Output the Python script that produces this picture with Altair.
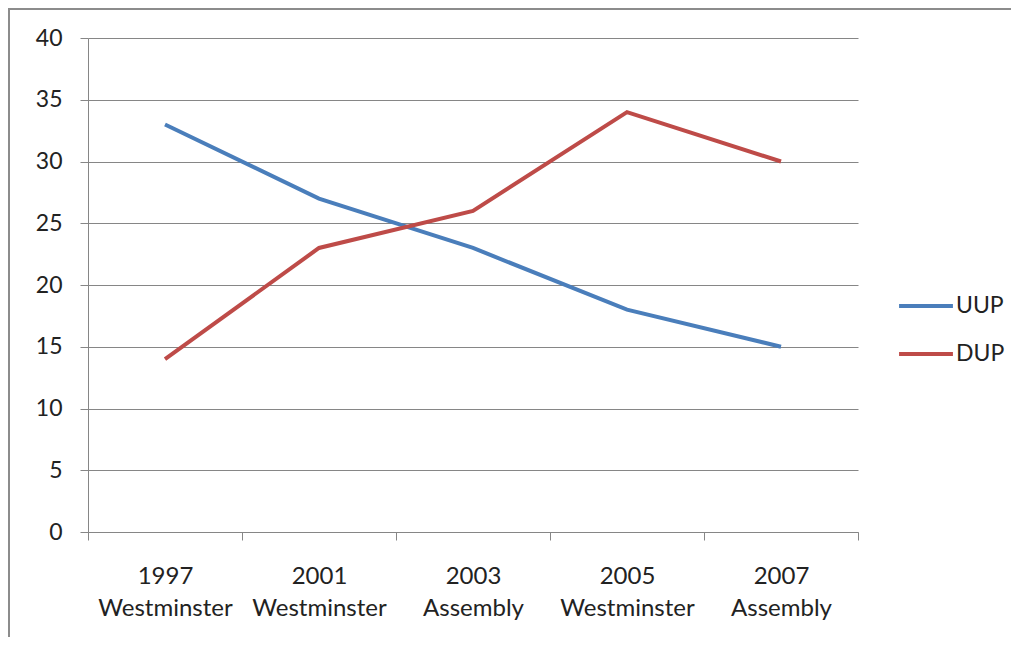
import altair as alt
import pandas as pd

categories = ["1997|Westminster", "2001|Westminster", "2003|Assembly", "2005|Westminster", "2007|Assembly"]
uup = [33, 27, 23, 18, 15]
dup = [14, 23, 26, 34, 30]
series = ["UUP", "DUP"]
colors = ["#4A7EBB", "#BE4B48"]
y_ticks = [0, 5, 10, 15, 20, 25, 30, 35, 40]

rows = []
for name, vals in zip(series, [uup, dup]):
    for c, v in zip(categories, vals):
        rows.append({"election": c, "party": name, "pct": v})
df = pd.DataFrame(rows)

W, H = 770, 494
PL, PT, PR, PB = 80, 30, 153, 105
FONT = "Lato"
GRID = "#868686"

lines = alt.Chart(df).mark_line(strokeWidth=4).encode(
    x=alt.X("election:N", sort=categories, bandPosition=0.5,
            scale=alt.Scale(type="band", paddingInner=0, paddingOuter=0),
            axis=alt.Axis(title=None, labelExpr="split(datum.label, '|')", labelAngle=0,
                          tickBand="extent", tickSize=8, tickColor=GRID, domainColor=GRID,
                          labelPadding=24, labelLineHeight=32, labelFontSize=24,
                          labelFont=FONT, labelColor="#222222", grid=False)),
    y=alt.Y("pct:Q", scale=alt.Scale(domain=[0, 40], nice=False),
            axis=alt.Axis(title=None, values=y_ticks, grid=True, gridColor=GRID,
                          tickSize=8, tickColor=GRID, domainColor=GRID,
                          labelPadding=18, labelFontSize=23, labelFont=FONT,
                          labelColor="#222222")),
    color=alt.Color("party:N", sort=series,
                    scale=alt.Scale(domain=series, range=colors),
                    legend=alt.Legend(title=None, orient="none", legendX=809, legendY=239,
                                      symbolType="stroke", symbolSize=2900,
                                      symbolStrokeWidth=4, labelFontSize=23,
                                      labelFont=FONT, labelColor="#222222",
                                      rowPadding=7, labelOffset=1)),
)

border_v = alt.Chart(pd.DataFrame({"k": [0]})).mark_rule(color="#8c8c8c", strokeWidth=2).encode(
    x=alt.value(-PL + 1), y=alt.value(-PT), y2=alt.value(H + PB))
border_h = alt.Chart(pd.DataFrame({"k": [0]})).mark_rule(color="#8c8c8c", strokeWidth=2).encode(
    y=alt.value(-PT + 1), x=alt.value(-PL), x2=alt.value(W + PR))

chart = alt.layer(lines, border_v, border_h).properties(
    width=W, height=H,
    autosize=alt.AutoSizeParams(type="none"),
    padding={"left": PL, "top": PT, "right": PR, "bottom": PB},
).configure_view(stroke=None)

chart.save("out.html", embed_options={"renderer": "svg", "actions": False})
